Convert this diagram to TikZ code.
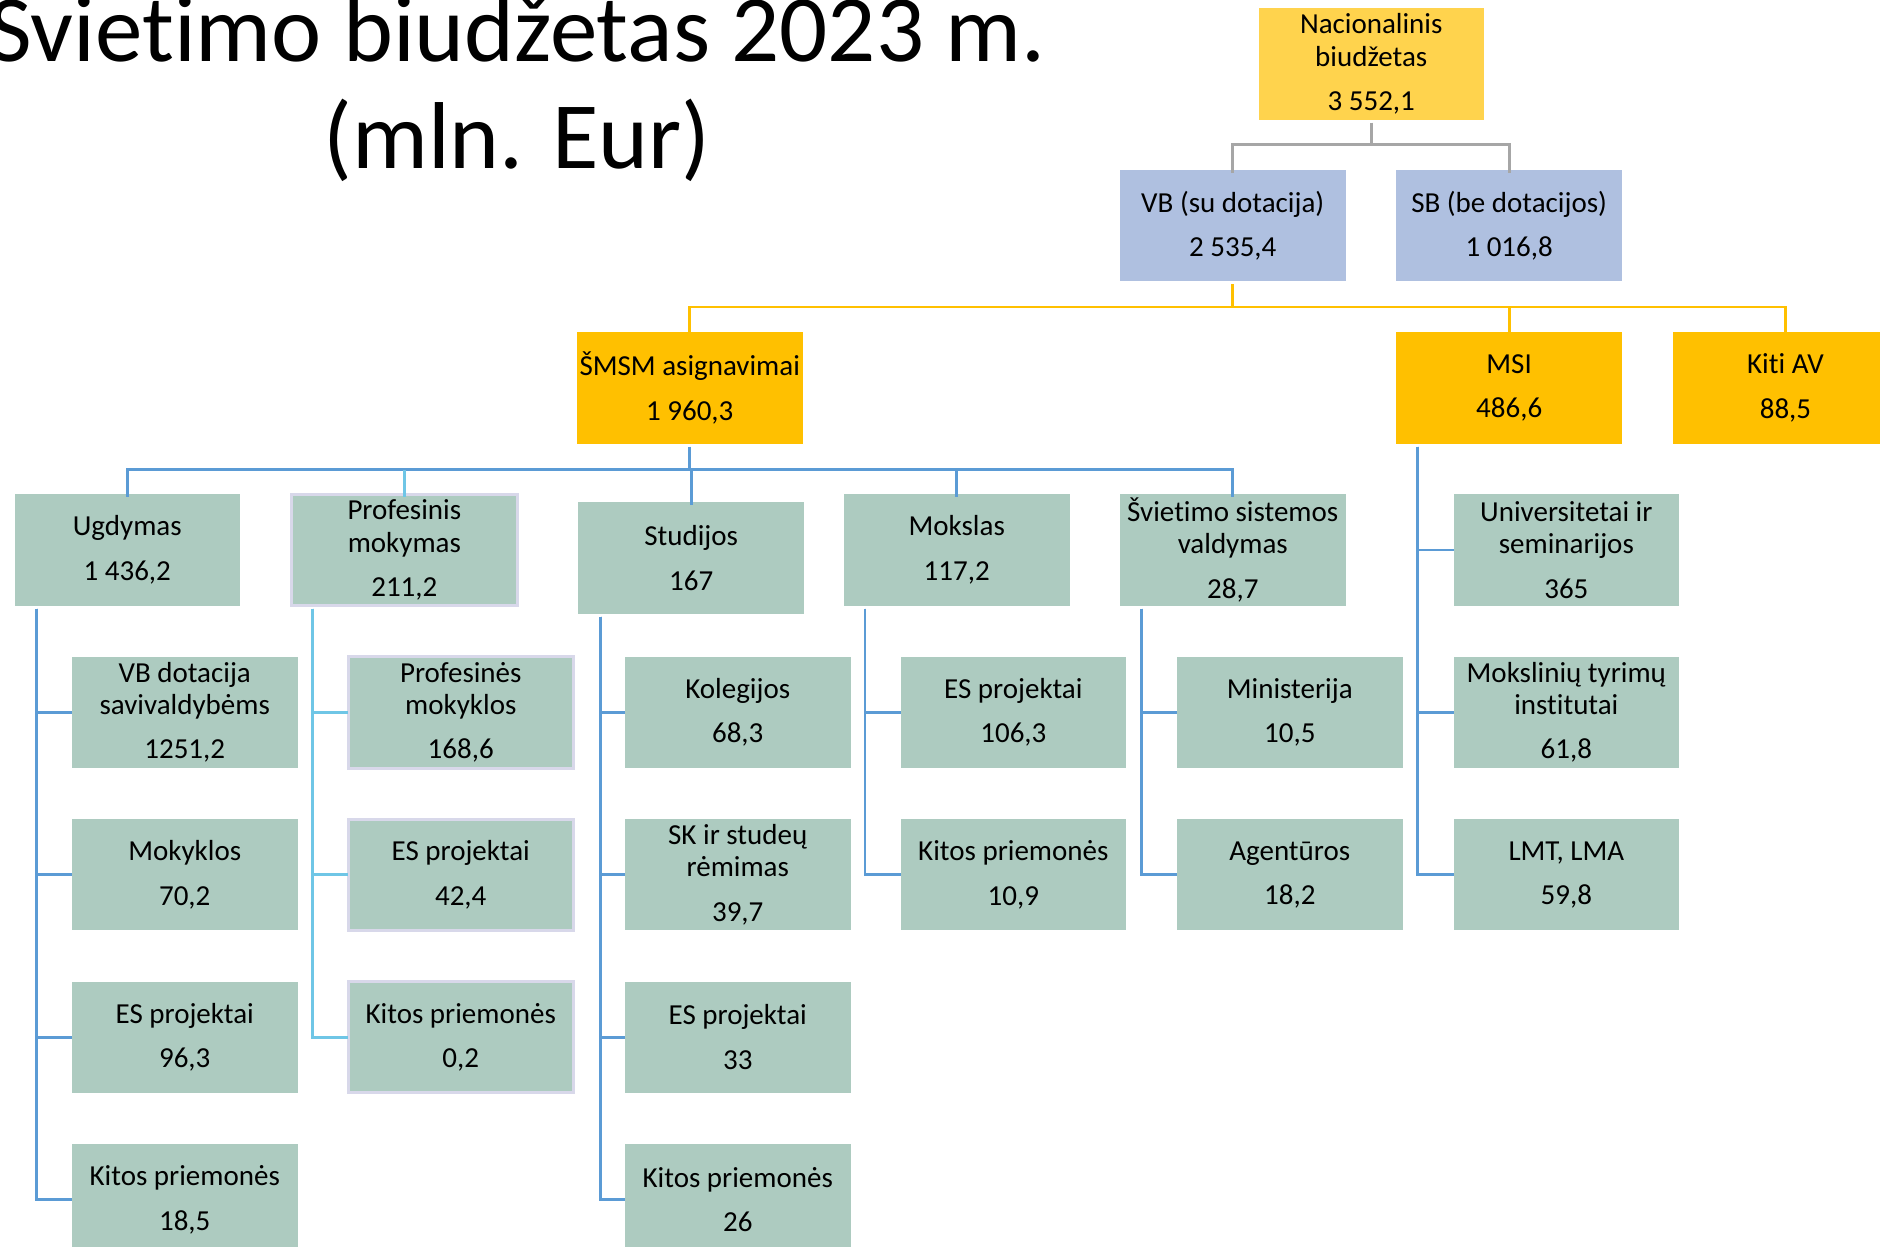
\documentclass[tikz,border=0pt]{standalone}
\usepackage{fontspec}
\setmainfont{Carlito}[Ligatures=NoCommon]
\definecolor{boxfill}{HTML}{ADCBC0}
\definecolor{vbfill}{HTML}{AFC0E0}
\definecolor{goldfill}{HTML}{FFC000}
\definecolor{lightgold}{HTML}{FFD34D}
\definecolor{lineblue}{HTML}{5B9BD5}
\definecolor{lightline}{HTML}{6FC6E6}
\definecolor{greyline}{HTML}{A6A6A6}
\definecolor{lavender}{HTML}{D8D8EA}
\tikzset{
  box/.style={rectangle, fill=boxfill, minimum width=225.5pt, minimum height=111.3pt,
    inner sep=0pt, outer sep=0pt, align=center, anchor=north west,
    font=\fontsize{29}{32.4}\selectfont},
  profbox/.style={box, draw=lavender, line width=3pt},
  topbox/.style={box, fill=goldfill},
  nacbox/.style={box, fill=lightgold},
  vbbox/.style={box, fill=vbfill},
  greyln/.style={draw=greyline, line width=2.8pt},
  goldln/.style={draw=goldfill, line width=2.8pt},
  blueln/.style={draw=lineblue, line width=2.8pt},
  lightln/.style={draw=lightline, line width=2.8pt},
  titletext/.style={anchor=base, inner sep=0pt, font=\fontsize{95}{106}\selectfont}
}
\begin{document}
\begin{tikzpicture}[x=1pt,y=-1pt]
\useasboundingbox (0,0) rectangle (1880,1247);
\fill[white] (0,0) rectangle (1880,1247);

% title
\node[titletext] (title1) at (517,62) {Švietimo biudžetas 2023 m.};
\node[titletext] (title2) at (517,168) {(mln. Eur)};

% top levels
\node[nacbox] (nac) at (1258.5,8.3) {Nacionalinis\\biudžetas\\[12pt]3 552,1};
\node[vbbox] (vb) at (1120,170) {VB (su dotacija)\\[12pt]2 535,4};
\node[vbbox] (sb) at (1396.4,170) {SB (be dotacijos)\\[12pt]1 016,8};
\node[topbox] (smsm) at (577,332.3) {ŠMSM asignavimai\\[12pt]1 960,3};
\node[topbox] (msi) at (1396.4,332.3) {MSI\\[12pt]486,6};
\node[topbox] (kiti) at (1672.7,332.3) {Kiti AV\\[12pt]88,5};

% level 2
\node[box] (ugd) at (14.5,494.3) {Ugdymas\\[12pt]1 436,2};
\node[profbox] (prof) at (291.6,494.3) {Profesinis\\mokymas\\[12pt]211,2};
\node[box] (stud) at (578.4,502.3) {Studijos\\[12pt]167};
\node[box] (mok) at (844,494.3) {Mokslas\\[12pt]117,2};
\node[box] (svs) at (1120,494.3) {Švietimo sistemos\\valdymas\\[12pt]28,7};
\node[box] (univ) at (1453.6,494.3) {Universitetai ir\\seminarijos\\[12pt]365};

% Ugdymas children
\node[box] (u1) at (72,656.7) {VB dotacija\\savivaldybėms\\[12pt]1251,2};
\node[box] (u2) at (72,819.1) {Mokyklos\\[12pt]70,2};
\node[box] (u3) at (72,981.5) {ES projektai\\[12pt]96,3};
\node[box] (u4) at (72,1144) {Kitos priemonės\\[12pt]18,5};

% Profesinis children
\node[profbox] (p1) at (348,656.7) {Profesinės\\mokyklos\\[12pt]168,6};
\node[profbox] (p2) at (348,819.1) {ES projektai\\[12pt]42,4};
\node[profbox] (p3) at (348,981.5) {Kitos priemonės\\[12pt]0,2};

% Studijos children
\node[box] (s1) at (625,656.7) {Kolegijos\\[12pt]68,3};
\node[box] (s2) at (625,819.1) {SK ir studeų\\rėmimas\\[12pt]39,7};
\node[box] (s3) at (625,981.5) {ES projektai\\[12pt]33};
\node[box] (s4) at (625,1144) {Kitos priemonės\\[12pt]26};

% Mokslas children
\node[box] (m1) at (900.6,656.7) {ES projektai\\[12pt]106,3};
\node[box] (m2) at (900.6,819.1) {Kitos priemonės\\[12pt]10,9};

% Svietimo sistemos valdymas children
\node[box] (v1) at (1177,656.7) {Ministerija\\[12pt]10,5};
\node[box] (v2) at (1177,819.1) {Agentūros\\[12pt]18,2};

% MSI children
\node[box] (i2) at (1453.6,656.7) {Mokslinių tyrimų\\institutai\\[12pt]61,8};
\node[box] (i3) at (1453.6,819.1) {LMT, LMA\\[12pt]59,8};

% grey connectors
\path (nac.south) ++(0,25) coordinate (gbus);
\draw[greyln] (nac.south) ++(0,3) -- (gbus);
\draw[greyln] (gbus) -| ([yshift=-3pt]vb.north);
\draw[greyln] (gbus) -| ([yshift=-3pt]sb.north);

% gold connectors
\path (vb.south) ++(0,25.7) coordinate (ybus);
\draw[goldln] (vb.south) ++(0,3) -- (ybus);
\draw[goldln] (ybus) -| ([yshift=-3pt]smsm.north);
\draw[goldln] (ybus) -| ([yshift=-3pt]msi.north);
\draw[goldln] (ybus) -| ([yshift=-3pt]kiti.north);

% blue connectors from SMSM
\path (smsm.south) ++(0,26) coordinate (bbus);
\draw[blueln] (smsm.south) ++(0,3) -- (bbus);
\draw[blueln] (bbus) -| ([yshift=-3pt]ugd.north);
\draw[blueln] (bbus) -| ([yshift=-3pt]svs.north);
\draw[blueln] (bbus) -| ([yshift=-3pt]mok.north);
\draw[blueln] (bbus) -| ([yshift=-3pt]stud.north);
\draw[lightln] (prof.north |- bbus) -- ([yshift=-3pt]prof.north);

% side connectors
\path (ugd.south west) ++(22,3) coordinate (ugdS);
\draw[blueln] (ugdS) |- (u1.west);
\draw[blueln] (ugdS) |- (u2.west);
\draw[blueln] (ugdS) |- (u3.west);
\draw[blueln] (ugdS) |- (u4.west);

\path (prof.south west) ++(21,3) coordinate (profS);
\draw[lightln] (profS) |- (p1.west);
\draw[lightln] (profS) |- (p2.west);
\draw[lightln] (profS) |- (p3.west);

\path (stud.south west) ++(22,3) coordinate (studS);
\draw[blueln] (studS) |- (s1.west);
\draw[blueln] (studS) |- (s2.west);
\draw[blueln] (studS) |- (s3.west);
\draw[blueln] (studS) |- (s4.west);

\path (mok.south west) ++(21,3) coordinate (mokS);
\draw[blueln] (mokS) |- (m1.west);
\draw[blueln] (mokS) |- (m2.west);

\path (svs.south west) ++(21.5,3) coordinate (svsS);
\draw[blueln] (svsS) |- (v1.west);
\draw[blueln] (svsS) |- (v2.west);

\path (msi.south west) ++(21.4,3) coordinate (msiS);
\draw[blueln] (msiS) |- (univ.west);
\draw[blueln] (msiS) |- (i2.west);
\draw[blueln] (msiS) |- (i3.west);
\end{tikzpicture}
\end{document}
